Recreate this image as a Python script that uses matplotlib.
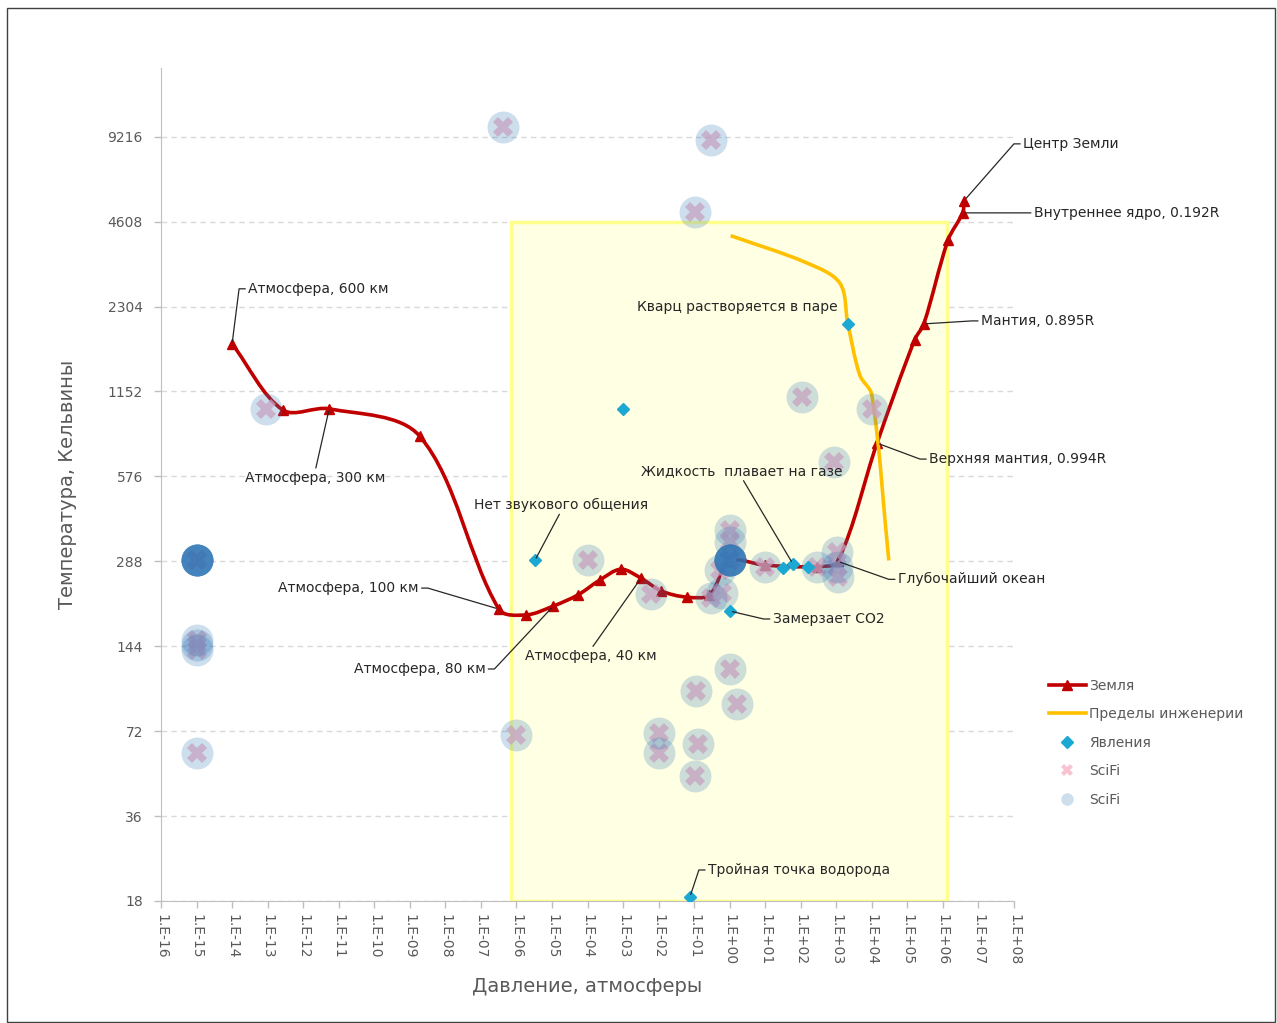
import numpy as np
import matplotlib
matplotlib.use("Agg")
import matplotlib.pyplot as plt
from matplotlib.path import Path
from matplotlib.patches import PathPatch, Rectangle
from matplotlib.lines import Line2D

plt.rcParams['font.family'] = ['DejaVu Sans']

# Земля: давление (атм) и температура (К)
earth_p = [1e-14, 2.7e-13, 5.4e-12, 1.9e-9, 3.2e-7, 1.9e-6, 1.1e-5, 5.4e-5, 2.2e-4,
           8.7e-4, 3.2e-3, 1.2e-2, 6.3e-2, 0.27, 1.0, 10, 280, 1100,
           1.4e4, 1.6e5, 2.9e5, 1.4e6, 3.6e6, 3.9e6]
earth_t = [1700, 990, 1000, 800, 195, 186, 200, 219, 247,
           270, 251, 226, 215, 219, 288, 279, 276, 288,
           756, 1757, 2000, 3970, 4950, 5460]

# Пределы инженерии
eng_p = [1.07, 148, 1260, 2100, 4570, 1e4, 3.0e4]
eng_t = [4110, 3290, 2790, 2016, 1318, 1120, 290]

# Явления
phen_p = [3.3e-6, 1e-3, 2100, 1.0, 32, 60, 158, 0.076]
phen_t = [290, 1000, 2000, 192, 272, 282, 275, 18.6]

# SciFi
scifi_p = [4.2e-7, 0.3, 0.105, 9e-14, 107, 1e4, 850,
           1e-15, 1e-15, 1e-15, 1e-15, 1e-15, 1e-15, 1e-15, 1e-15,
           1e-15, 1e-15, 1e-15, 1e-15, 1e-6, 1e-4, 6e-3, 0.3, 0.6,
           1, 1, 1, 1, 1, 1, 1, 1, 1, 1, 0.52, 10, 280,
           1050, 1050, 1150, 1, 0.11, 1.6, 0.01, 0.01, 0.125, 0.105]
scifi_t = [10000, 9000, 5000, 1000, 1100, 1000, 650,
           290, 290, 290, 290, 290, 290, 290, 290,
           151, 145, 140, 60, 70, 290, 220, 213, 222,
           372, 337, 290, 290, 290, 290, 290, 290, 290, 290, 268, 275, 275,
           311, 275, 253, 120, 100, 90, 71, 60, 65, 50]

# Область рисунка
box_p = [7e-7, 1.3e6]
box_t = [18, 4608]

y_ticks = [18, 36, 72, 144, 288, 576, 1152, 2304, 4608, 9216]
x_exps = list(range(-16, 9))

# подписи: текст, точка (p, T), смещение текста в пикселях, выравнивание, выноска
notes = [
    ("Атмосфера, 600 км", 1e-14, 1700, 16, 55, "left", "stub"),
    ("Атмосфера, 300 км", 5.4e-12, 1000, -14, -69, "center", "top"),
    ("Атмосфера, 100 км", 3.2e-7, 195, -80, 21, "right", "stub"),
    ("Атмосфера, 80 км", 1.1e-5, 200, -68, -63, "right", "stub"),
    ("Атмосфера, 40 км", 3.2e-3, 251, -50, -78, "center", "top"),
    ("Нет звукового общения", 3.3e-6, 290, 26, 56, "center", "bottom"),
    ("Кварц растворяется в паре", 2100, 2000, -10, 17, "right", None),
    ("Замерзает CO2", 1.0, 192, 43, -8, "left", "stub"),
    ("Жидкость  плавает на газе", 60, 282, -51, 93, "center", "bottom"),
    ("Глубочайший океан", 1100, 288, 60, -18, "left", "stub"),
    ("Верхняя мантия, 0.994R", 1.4e4, 756, 52, -16, "left", "stub"),
    ("Мантия, 0.895R", 2.9e5, 2000, 57, 3, "left", "stub"),
    ("Внутреннее ядро, 0.192R", 3.6e6, 4950, 71, 0, "left", "line"),
    ("Центр Земли", 3.9e6, 5460, 59, 57, "left", "stub"),
    ("Тройная точка водорода", 0.076, 18.6, 18, 27, "left", "stub"),
]


def smooth(xs, ys):
    # сглаженная линия: кривые Безье через точки, касательные по длинам хорд
    lx = np.log10(xs) * 35.55
    ly = np.log2(ys) * 84.9
    P = np.column_stack([lx, ly])
    n = len(P)
    d = np.hypot(*np.diff(P, axis=0).T)
    tan = np.zeros_like(P)
    for i in range(n):
        a = max(i - 1, 0)
        b = min(i + 1, n - 1)
        span = (d[i - 1] if i > 0 else 0) + (d[i] if i < n - 1 else 0)
        tan[i] = (P[b] - P[a]) / span
    verts = [P[0]]
    codes = [Path.MOVETO]
    for i in range(n - 1):
        verts += [P[i] + tan[i] * d[i] / 3, P[i + 1] - tan[i + 1] * d[i] / 3, P[i + 1]]
        codes += [Path.CURVE4] * 3
    v = np.array(verts)
    return Path(np.column_stack([10 ** (v[:, 0] / 35.55), 2 ** (v[:, 1] / 84.9)]), codes)


fig = plt.figure(figsize=(12.77, 10.23), dpi=100)
ax = fig.add_axes([161 / 1277, 1 - 901 / 1023, 853 / 1277, 833 / 1023])
fig.patches.append(Rectangle((7 / 1277, 1 / 1023), 1268 / 1277, 1014 / 1023,
                             transform=fig.transFigure, fill=False,
                             edgecolor='#404040', lw=1))

ax.set_xscale('log')
ax.set_yscale('log', base=2)
ax.set_xlim(1e-16, 1e8)
ax.set_ylim(18, 16150)

ax.add_patch(Rectangle((box_p[0], box_t[0]), box_p[1] - box_p[0], box_t[1] - box_t[0],
                       facecolor='#FFFFE3', edgecolor='#FFFF8C', lw=2.5, zorder=1))

ax.add_patch(PathPatch(smooth(earth_p, earth_t), fill=False, edgecolor='#C00000',
                       lw=2.6, zorder=3, capstyle='round'))
ax.plot(earth_p, earth_t, ls='none', marker='^', ms=7, color='#C00000', zorder=3)
ax.add_patch(PathPatch(smooth(eng_p, eng_t), fill=False, edgecolor='#FFC000',
                       lw=2.6, zorder=3))

ax.plot(scifi_p, scifi_t, ls='none', marker='X', ms=14, color='#F7B0C4',
        markeredgewidth=0, alpha=0.75, zorder=4)
ax.plot(scifi_p, scifi_t, ls='none', marker='o', ms=23, color='#2E75B6',
        markeredgewidth=0, alpha=0.24, zorder=5)
ax.plot(phen_p, phen_t, ls='none', marker='D', ms=6, color='#1BA8D3', zorder=6)

for text, p, t, dx, dy, ha, kind in notes:
    props = None
    if kind == "stub":
        rel = (0, 0.5) if ha == "left" else (1, 0.5)
        ang = 180 if ha == "left" else 0
        props = dict(arrowstyle='-', color='#262626', lw=0.9, relpos=rel, shrinkA=0, shrinkB=2,
                     connectionstyle=f"arc,angleA={ang},armA=9,angleB=0,armB=0,rad=0")
    elif kind == "line":
        props = dict(arrowstyle='-', color='#262626', lw=0.9, relpos=(0, 0.5), shrinkA=0, shrinkB=2)
    elif kind == "top":
        props = dict(arrowstyle='-', color='#262626', lw=0.9, relpos=(0.5, 1), shrinkA=0, shrinkB=2)
    elif kind == "bottom":
        props = dict(arrowstyle='-', color='#262626', lw=0.9, relpos=(0.5, 0), shrinkA=0, shrinkB=2)
    ax.annotate(text, xy=(p, t), xytext=(dx, dy), textcoords='offset pixels',
                ha=ha, va='center', fontsize=10, color='#262626',
                arrowprops=props, zorder=7)

ax.set_yticks(y_ticks)
ax.set_yticklabels([str(v) for v in y_ticks])
ax.yaxis.set_minor_locator(matplotlib.ticker.NullLocator())
ax.set_xticks([10.0 ** k for k in x_exps])
ax.set_xticklabels([f"1.E{k:+03d}" for k in x_exps], rotation=-90)
ax.xaxis.set_minor_locator(matplotlib.ticker.NullLocator())
ax.tick_params(axis='both', colors='#BFBFBF', labelcolor='#595959', labelsize=10,
               length=5, width=1)
ax.tick_params(axis='y', pad=8)
ax.tick_params(axis='x', pad=4)
ax.grid(axis='y', color='#D9D9D9', ls=(0, (4, 3)), lw=1)
ax.set_axisbelow(True)
for s in ['top', 'right']:
    ax.spines[s].set_visible(False)
for s in ['left', 'bottom']:
    ax.spines[s].set_color('#BFBFBF')

ax.set_xlabel("Давление, атмосферы", fontsize=14, color='#595959', labelpad=9)
ax.set_ylabel("Температура, Кельвины", fontsize=14, color='#595959', labelpad=22)

handles = [
    Line2D([], [], color='#C00000', lw=2.6, marker='^', ms=7),
    Line2D([], [], color='#FFC000', lw=2.6),
    Line2D([], [], ls='none', color='#1BA8D3', marker='D', ms=6),
    Line2D([], [], ls='none', color='#F7B0C4', marker='X', ms=9, markeredgewidth=0, alpha=0.75),
    Line2D([], [], ls='none', color='#2E75B6', marker='o', ms=9, markeredgewidth=0, alpha=0.24),
]
labels = ["Земля", "Пределы инженерии", "Явления", "SciFi", "SciFi"]
fig.legend(handles, labels, loc='upper left', bbox_to_anchor=(1036 / 1277, 1 - 666 / 1023),
           frameon=False, fontsize=10, labelcolor='#595959', handlelength=2.7,
           handletextpad=0.2, labelspacing=1.05)

fig.savefig('out.png', dpi=100)
